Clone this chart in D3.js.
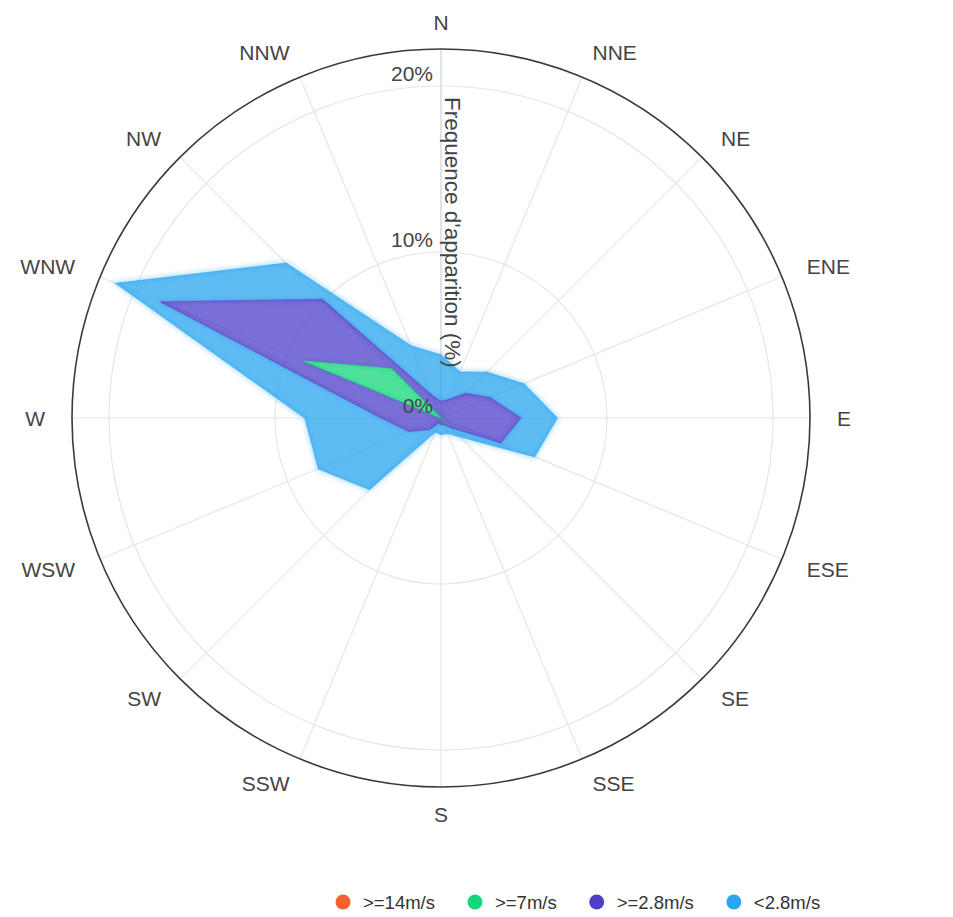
<!DOCTYPE html>
<html><head><meta charset="utf-8">
<script src="https://cdn.jsdelivr.net/npm/d3@7"></script>
<style>
body{margin:0;background:#fff}
svg{display:block}
text{font-family:"Liberation Sans",Arial,sans-serif}
</style>
</head><body>
<svg id="c" width="953" height="917"></svg>
<script>
// ---- data ----
const directions = ["N","NNE","NE","ENE","E","ESE","SE","SSE","S","SSW","SW","WSW","W","WNW","NW","NNW"];
const seriesNames = [">=14m/s", ">=7m/s", ">=2.8m/s", "<2.8m/s"];
const seriesColors = ["#f7612f", "#14d77a", "#4d3fc8", "#2aa5ef"];
const ge14 = [0,0,0,0,0,0,0,0,0,0,0,0,0,0,0,0];
const ge7  = [0,0,0,0,0,0,0.7,0,0,0,0,0,0,9.0,4.2,0];
const ge28 = [1.0,1.2,2.1,3.2,4.8,3.9,0.1,0.4,0.4,0.3,1.0,2.1,3.6,9.3,5.9,1.5];
const lt28 = [2.8,1.8,1.8,2.2,2.2,2.2,0.8,0.6,0.6,0.6,5.1,5.9,4.6,2.9,3.1,3.2];
const yTicks = [0, 10, 20];
const yMax = 22.23;
const yTitle = "Frequence d'apparition (%)";

// ---- layout ----
const cx = 441, cy = 418, R = 369;
const svg = d3.select("#c");
const g = svg.append("g").attr("transform", `translate(${cx},${cy})`);

const table = directions.map((d, i) => ({
  dir: d,
  [seriesNames[0]]: ge14[i],
  [seriesNames[1]]: ge7[i],
  [seriesNames[2]]: ge28[i],
  [seriesNames[3]]: lt28[i]
}));
const stacked = d3.stack().keys(seriesNames)(table);

const angle = d3.scaleBand().domain(directions).range([0, 2 * Math.PI]).align(0).paddingInner(0).paddingOuter(0);
const r = d3.scaleLinear().domain([0, yMax]).range([0, R]);

// grid circles
g.selectAll("circle.grid").data(yTicks.filter(t => t > 0)).join("circle")
  .attr("class", "grid").attr("r", d => r(d))
  .attr("fill", "none").attr("stroke", "#e6e6e6").attr("stroke-width", 1.2);

// spokes
g.selectAll("line.spoke").data(directions).join("line")
  .attr("x1", 0).attr("y1", 0)
  .attr("x2", d => R * Math.sin(angle(d)))
  .attr("y2", d => -R * Math.cos(angle(d)))
  .attr("stroke", "#e6e6e6").attr("stroke-width", 1.2);

// y axis line
g.append("line").attr("x1", 0).attr("y1", 0).attr("x2", 0).attr("y2", -R)
  .attr("stroke", "#ccd6eb").attr("stroke-width", 1);

// outer circle
g.append("circle").attr("r", R).attr("fill", "none").attr("stroke", "#3a3a3a").attr("stroke-width", 1.6);

// areas
const radial = acc => d3.lineRadial()
  .angle((d, i) => angle(directions[i]))
  .radius(d => r(acc(d)))
  .curve(d3.curveLinearClosed);

const defs = svg.append("defs");
defs.append("filter").attr("id", "glow").attr("x", "-20%").attr("y", "-20%").attr("width", "140%").attr("height", "140%")
  .append("feGaussianBlur").attr("stdDeviation", 2);

const layers = stacked.slice().reverse();
// soft halo
g.selectAll("path.halo").data(layers).join("path")
  .attr("d", s => radial(d => d[1])(s))
  .attr("fill", "none")
  .attr("stroke", (s) => seriesColors[s.index])
  .attr("stroke-opacity", 0.35)
  .attr("stroke-width", 4)
  .attr("filter", "url(#glow)");

g.selectAll("path.area").data(layers).join("path")
  .attr("class", "area")
  .attr("d", s => radial(d => d[1])(s) + radial(d => d[0])(s))
  .attr("fill-rule", "evenodd")
  .attr("fill", s => seriesColors[s.index])
  .attr("fill-opacity", 0.75);

g.selectAll("path.edge").data(layers).join("path")
  .attr("d", s => radial(d => d[1])(s))
  .attr("fill", "none")
  .attr("stroke", s => seriesColors[s.index])
  .attr("stroke-opacity", 0.55)
  .attr("stroke-width", 1.2);

// direction labels
const LR = 396;
g.selectAll("text.dir").data(directions).join("text")
  .attr("x", d => LR * Math.sin(angle(d)))
  .attr("y", d => -LR * Math.cos(angle(d)))
  .attr("dy", "0.36em")
  .attr("text-anchor", d => { const s = Math.sin(angle(d)); return Math.abs(s) < 0.01 ? "middle" : (s > 0 ? "start" : "end"); })
  .attr("font-size", 21)
  .attr("fill", "#444")
  .text(d => d);

// y tick labels
g.selectAll("text.ytick").data(yTicks).join("text")
  .attr("x", -8).attr("y", d => -r(d) - 13).attr("dy", "0.36em")
  .attr("text-anchor", "end").attr("font-size", 21).attr("fill", "#444")
  .text(d => d + "%");

// y axis title
g.append("text").attr("transform", `translate(4,${-R + 48}) rotate(90)`)
  .attr("text-anchor", "start").attr("font-size", 22.5).attr("fill", "#444")
  .text(yTitle);

// legend
const leg = svg.append("g").attr("transform", "translate(0,902)");
let xPos = 343;
seriesNames.forEach((name, i) => {
  leg.append("circle").attr("cx", xPos).attr("cy", 0).attr("r", 7.5).attr("fill", seriesColors[i]);
  const t = leg.append("text").attr("x", xPos + 20).attr("y", 0).attr("dy", "0.36em")
    .attr("font-size", 18.5).attr("fill", "#333").text(name);
  const w = t.node().getComputedTextLength();
  xPos = xPos + 20 + w + 40;
});
</script>
</body></html>
